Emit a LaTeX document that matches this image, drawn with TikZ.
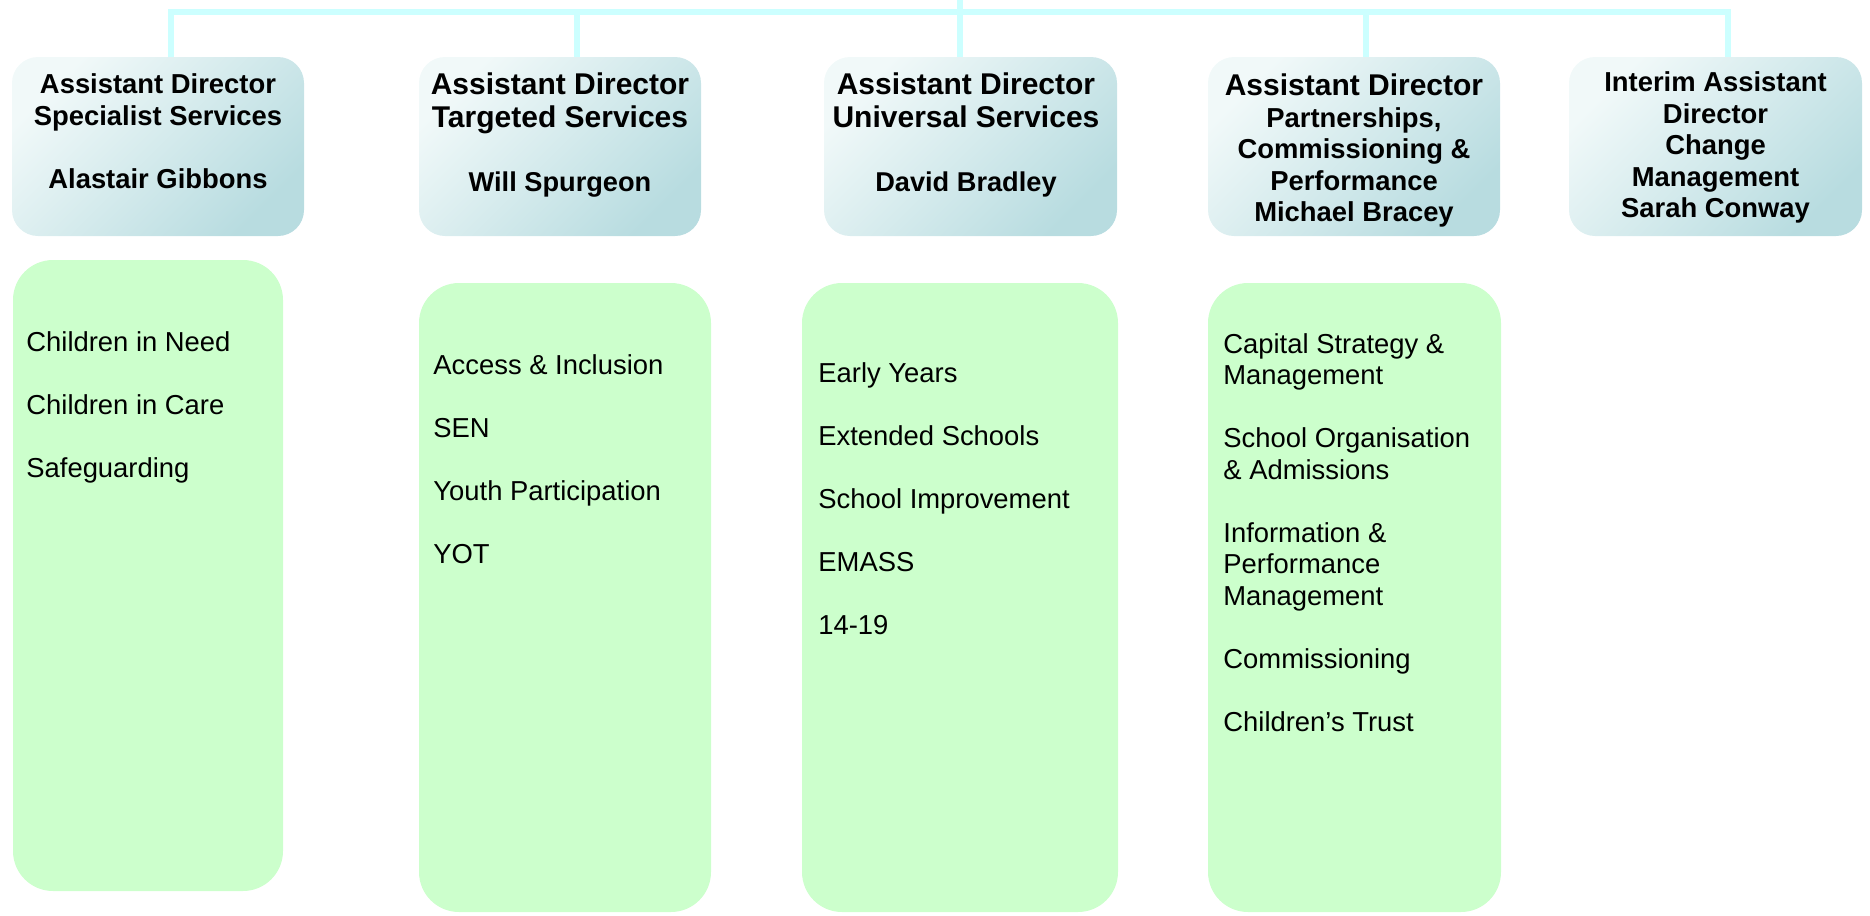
\documentclass[tikz,border=0pt]{standalone}
\usepackage{fontspec}
\setmainfont{Liberation Sans}
\definecolor{hdlight}{RGB}{241,249,249}
\definecolor{hddark}{RGB}{184,220,224}
\definecolor{grfill}{RGB}{204,255,204}
\definecolor{linkcol}{RGB}{204,255,255}
\tikzset{
  hdbox/.style={rectangle, rounded corners=13pt, inner sep=0pt, outer sep=0pt,
    top color=hdlight, bottom color=hddark, shading angle=45, minimum height=89.5pt},
  grbox/.style={rectangle, rounded corners=20pt, fill=grfill, inner sep=0pt,
    outer sep=0pt, minimum height=314.5pt},
  hdtext/.style={anchor=north, align=center, inner sep=0pt,
    font=\bfseries\fontsize{13.7}{15.75}\selectfont},
  hdbig/.style={font=\bfseries\fontsize{15}{16.5}\selectfont},
  grtext/.style={anchor=north west, align=left, inner sep=0pt,
    font=\fontsize{13.7}{15.75}\selectfont},
  link/.style={draw=linkcol, line width=2.75pt},
}

\begin{document}
\begin{tikzpicture}[x=0.5pt, y=-0.5pt]
		%%%%% START %%%%%
		\useasboundingbox (0,0) rectangle (1870,916);
		
		\coordinate (jtop) at (960,0);
		\coordinate (j1) at (171,12);
		\coordinate (j2) at (577,12);
		\coordinate (j4) at (1366,12);
		\coordinate (j5) at (1728,12);
		
		\node[hdbox, minimum width=146pt] (hd1) at (158,146.5) {};
		\node[hdbox, minimum width=141pt] (hd2) at (560,146.5) {};
		\node[hdbox, minimum width=146.5pt] (hd3) at (970.5,146.5) {};
		\node[hdbox, minimum width=146pt] (hd4) at (1354,146.5) {};
		\node[hdbox, minimum width=146.5pt] (hd5) at (1715.5,146.5) {};
		
		\draw[link] (j1 |- hd1.north) -- (j1) -- (j5) -- (j5 |- hd5.north);
		\draw[link] (j2) -- (j2 |- hd2.north);
		\draw[link] (jtop) -- (jtop |- hd3.north);
		\draw[link] (j4) -- (j4 |- hd4.north);
		
		\node[hdtext] (ht1) at (158,73.7) {Assistant Director\\Specialist Services\\[15.75pt]Alastair Gibbons};
		\node[hdtext, hdbig] (ht2) at (560,72.5) {Assistant Director\\Targeted Services\\[15.5pt]\fontsize{13.6}{16}\selectfont Will Spurgeon};
		\node[hdtext, hdbig] (ht3) at (966,72.5) {Assistant Director\\Universal Services\\[15.5pt]\fontsize{13.6}{16}\selectfont David Bradley};
		\node[hdtext] (ht4) at (1354,73.5) {{\fontsize{15}{15.75}\selectfont Assistant Director}\\Partnerships,\\Commissioning \&\\Performance\\Michael Bracey};
		\node[hdtext] (ht5) at (1715.5,71.5) {Interim Assistant\\Director\\Change\\Management\\Sarah Conway};
		
		\node[grbox, minimum width=135pt, minimum height=315.5pt] (gr1) at (148,575.5) {};
		\node[grbox, minimum width=146pt] (gr2) at (565,597.5) {};
		\node[grbox, minimum width=158pt] (gr3) at (960,597.5) {};
		\node[grbox, minimum width=146.5pt] (gr4) at (1354.5,597.5) {};
		
		\node[grtext] (gt1) at (26,331.5) {Children in Need\\[15.75pt]Children in Care\\[15.75pt]Safeguarding};
		\node[grtext] (gt2) at (433,354) {Access \& Inclusion\\[15.75pt]SEN\\[15.75pt]Youth Participation\\[15.75pt]YOT};
		\node[grtext] (gt3) at (818,362.5) {Early Years\\[15.75pt]Extended Schools\\[15.75pt]School Improvement\\[15.75pt]EMASS\\[15.75pt]14-19};
		\node[grtext] (gt4) at (1223,333) {Capital Strategy \&\\Management\\[15.75pt]School Organisation\\\& Admissions\\[15.75pt]Information \&\\Performance\\Management\\[15.75pt]Commissioning\\[15.75pt]Children’s Trust};
		
		%%%%% END %%%%%
	\end{tikzpicture}
\end{document}
